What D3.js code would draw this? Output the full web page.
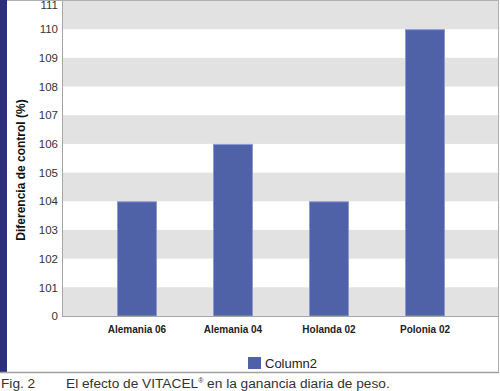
<!DOCTYPE html>
<html>
<head>
<script type="text/javascript" src="https://d3js.org/d3.v7.min.js"></script>
<style>
  body { margin: 0; background: #fff; }
  svg { display: block; font-family: "Liberation Sans", Arial, sans-serif; }
</style>
</head>
<body>
<svg id="chart" width="500" height="391"></svg>
<script type="text/javascript">
// data
const categories = ["Alemania 06", "Alemania 04", "Holanda 02", "Polonia 02"];
const values = [104, 106, 104, 110];
const yTicks = [100, 101, 102, 103, 104, 105, 106, 107, 108, 109, 110, 111];
const yTickLabels = ["0", "101", "102", "103", "104", "105", "106", "107", "108", "109", "110", "111"];
const seriesName = "Column2";

const svg = d3.select("#chart");

// plot area
const plotL = 62, plotR = 498, plotT = 0.5, plotB = 316;

const y = d3.scaleLinear().domain([100, 111]).range([plotB, plotT]);
const x = d3.scaleBand().domain(categories).range([89, 473]);
const barW = 40;

// alternating bands
const bands = d3.range(100, 111).filter(v => v % 2 === 0);
svg.selectAll("rect.band")
  .data(bands)
  .enter().append("rect")
  .attr("class", "band")
  .attr("x", plotL)
  .attr("width", plotR - plotL)
  .attr("y", d => y(d + 1))
  .attr("height", d => y(d) - y(d + 1))
  .style("fill", "#e2e2e2");

// bars
svg.selectAll("rect.bar")
  .data(values)
  .enter().append("rect")
  .attr("class", "bar")
  .attr("x", (d, i) => x(categories[i]) + x.bandwidth() / 2 - barW / 2 + 0.5)
  .attr("width", barW - 1)
  .attr("y", d => y(d) + 0.5)
  .attr("height", d => y(100) - y(d) - 0.5)
  .style("fill", "#4f62a8")
  .style("stroke", "#8b98d2")
  .style("stroke-width", 1);

// y axis
const yAxis = d3.axisLeft(y)
  .tickValues(yTicks)
  .tickFormat((d, i) => yTickLabels[i])
  .tickSize(0)
  .tickPadding(4);
const gy = svg.append("g").attr("transform", `translate(${plotL},0)`).call(yAxis);
gy.select(".domain").remove();
gy.selectAll("text").style("font-size", "11.5px").style("fill", "#333");
// keep the top label inside the picture
gy.selectAll(".tick").filter(d => d === 111).select("text").attr("dy", "0.7em");

// x axis
const xAxis = d3.axisBottom(x).tickSize(0).tickPadding(10);
const gx = svg.append("g").attr("transform", `translate(0,${plotB})`).call(xAxis);
gx.select(".domain").remove();
gx.selectAll("text").style("font-size", "10px").style("font-weight", "bold").style("fill", "#222");

// axis lines
svg.append("line").attr("x1", plotL + 0.5).attr("x2", plotL + 0.5).attr("y1", 0).attr("y2", plotB + 0.5)
  .style("stroke", "#a6a6a6");
svg.append("line").attr("x1", plotL).attr("x2", plotR).attr("y1", plotB + 0.5).attr("y2", plotB + 0.5)
  .style("stroke", "#a6a6a6");

// y title
svg.append("text")
  .attr("transform", "translate(25,170) rotate(-90)")
  .attr("text-anchor", "middle")
  .style("font-size", "12px")
  .style("font-weight", "bold")
  .style("fill", "#111")
  .text("Diferencia de control (%)");

// legend
svg.append("rect").attr("x", 248).attr("y", 357).attr("width", 13).attr("height", 12)
  .style("fill", "#4f62a8");
svg.append("text").attr("x", 265).attr("y", 368)
  .style("font-size", "13px").style("fill", "#222").text(seriesName);

// frame
svg.append("rect").attr("x", 0).attr("y", 0).attr("width", 7).attr("height", 372)
  .style("fill", "#2b2f7e");
svg.append("line").attr("x1", 7).attr("x2", 499).attr("y1", 0.5).attr("y2", 0.5).style("stroke", "#b0b0b0");
svg.append("line").attr("x1", 498.5).attr("x2", 498.5).attr("y1", 0).attr("y2", 373).style("stroke", "#b0b0b0");
svg.append("line").attr("x1", 0).attr("x2", 499).attr("y1", 372.5).attr("y2", 372.5)
  .style("stroke", "#a0a0a0").style("stroke-width", 1.5);

// caption
svg.append("text").attr("x", 1).attr("y", 388)
  .style("font-size", "13.7px").style("fill", "#333").text("Fig. 2");
const cap = svg.append("text").attr("x", 66).attr("y", 388)
  .style("font-size", "13.7px").style("fill", "#333");
cap.append("tspan").text("El efecto de VITACEL");
cap.append("tspan").attr("dy", -5).style("font-size", "7px").text("®");
cap.append("tspan").attr("dy", 5).text(" en la ganancia diaria de peso.");
</script>
</body>
</html>
